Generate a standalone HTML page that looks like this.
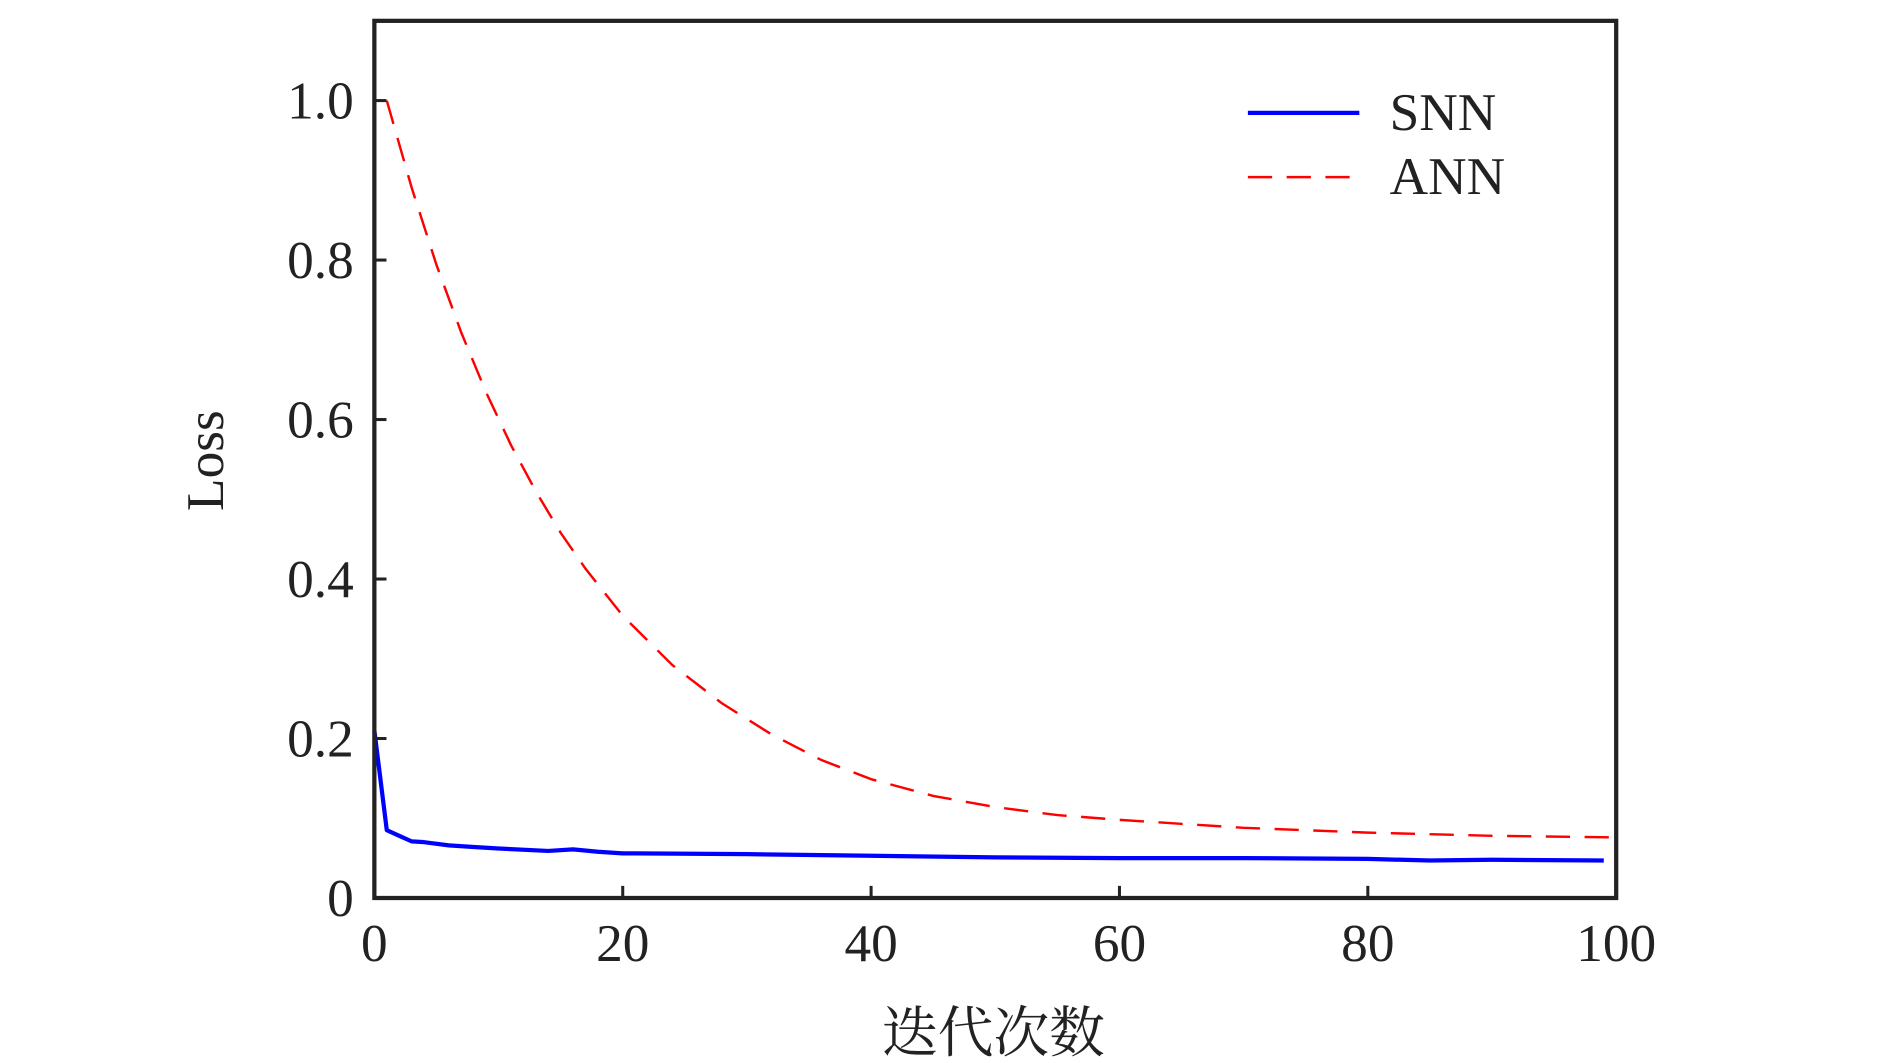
<!DOCTYPE html>
<html><head><meta charset="utf-8"><style>
html,body{margin:0;padding:0;background:#fff;}
svg{display:block;}
text{font-family:"Liberation Serif","Noto Serif CJK SC",serif;fill:#222;}
</style></head><body>
<svg id="chart" width="1890" height="1063" viewBox="0 0 1560 877" xmlns="http://www.w3.org/2000/svg">
<rect width="1560" height="877" fill="#fff"/>
<g id="plot"></g>
</svg>
<script>
const xTicks=[0,20,40,60,80,100];
const yTicks=[0,0.2,0.4,0.6,0.8,1.0];
const yTickLabels=["0","0.2","0.4","0.6","0.8","1.0"];
const annX=[1,3,5,7,9,11,13,15,17,20,24,28,32,36,40,45,50,55,60,70,80,90,100];
const annY=[1.0,0.891,0.794,0.709,0.634,0.568,0.510,0.458,0.413,0.354,0.292,0.244,0.205,0.173,0.149,0.128,0.114,0.104,0.098,0.088,0.082,0.078,0.076];
const snnX=[0,1,2,3,4,6,8,10,14,16,18,20,30,40,50,60,70,80,85,90,99];
const snnY=[0.21,0.085,0.078,0.071,0.070,0.066,0.064,0.062,0.059,0.061,0.058,0.056,0.055,0.053,0.051,0.050,0.050,0.049,0.047,0.048,0.047];

const L=309,R=1334,T=17,B=741;
const sx=v=>L+(v-0)/(100-0)*(R-L);
const sy=v=>B-(v-0)/(1.1-0)*(B-T);
const NS="http://www.w3.org/2000/svg";
const g=document.getElementById('plot');
function mk(tag,attrs,txt){const e=document.createElementNS(NS,tag);for(const k in attrs)e.setAttribute(k,attrs[k]);if(txt!==undefined)e.textContent=txt;g.appendChild(e);return e;}

let d=snnX.map((x,i)=>(i?'L':'M')+sx(x)+','+sy(snnY[i])).join(' ');
let p=mk('path',{d:d,fill:'none',stroke:'#0000ff','stroke-width':3.5,'stroke-linejoin':'round'});


d=annX.map((x,i)=>(i?'L':'M')+sx(x)+','+sy(annY[i])).join(' ');
p=mk('path',{d:d,fill:'none',stroke:'#ff0000','stroke-width':2,'stroke-dasharray':'20,12'});



let f=mk('rect',{x:L,y:T,width:R-L,height:B-T,fill:'none',stroke:'#222','stroke-width':3.5});



xTicks.forEach(v=>{
  let t=mk('line',{x1:sx(v),x2:sx(v),y1:B,y2:B-10,stroke:'#222','stroke-width':2.5});
  
  
  let l=mk('text',{x:sx(v),y:793,'text-anchor':'middle','font-size':44},String(v));
  
  
});
yTicks.forEach((v,i)=>{
  let t=mk('line',{x1:L,x2:L+10,y1:sy(v),y2:sy(v),stroke:'#222','stroke-width':2.5});
  
  
  let l=mk('text',{x:292,y:sy(v)+15,'text-anchor':'end','font-size':44},yTickLabels[i]);
  
  
});

let xt=mk('text',{x:820,y:868,'text-anchor':'middle','font-size':46},'迭代次数');


let yt=mk('text',{x:0,y:0,'text-anchor':'middle','font-size':44,transform:'translate(184,380) rotate(-90)'},'Loss');



let l1=mk('line',{x1:1030,x2:1122,y1:93,y2:93,stroke:'#0000ff','stroke-width':3.5});


let t1=mk('text',{x:1147,y:107,'font-size':44},'SNN');


let l2=mk('line',{x1:1030,x2:1122,y1:146,y2:146,stroke:'#ff0000','stroke-width':2,'stroke-dasharray':'20,12'});


let t2=mk('text',{x:1147,y:160,'font-size':44},'ANN');


</script>
</body></html>
